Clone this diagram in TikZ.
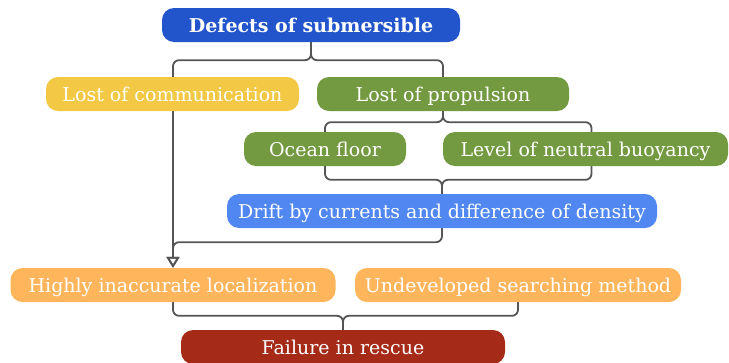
\documentclass[tikz,border=0pt]{standalone}
\usepackage{fontspec}
\setmainfont{DejaVu Serif}
\usetikzlibrary{calc,arrows.meta,backgrounds}
\definecolor{defblue}{RGB}{34,85,204}
\definecolor{commyellow}{RGB}{242,200,68}
\definecolor{propgreen}{RGB}{115,153,65}
\definecolor{driftblue}{RGB}{80,135,240}
\definecolor{locorange}{RGB}{255,181,92}
\definecolor{failred}{RGB}{165,42,24}
\definecolor{linegray}{RGB}{85,85,85}
\tikzset{
    block/.style = {rectangle, rounded corners=12pt,
        minimum height=34pt, inner sep=0pt,
        text height=18pt, text depth=4pt,
        text=white, font=\fontsize{19}{22}\selectfont, align=center},
    link/.style = {draw=linegray, line width=1.8pt, rounded corners=6pt},
    arrow/.style = {link, -{Triangle[open,length=11pt,width=13pt]}}
}

\begin{document}
\begin{tikzpicture}[node distance=1.5cm]
        \useasboundingbox (0,0) rectangle (729pt,-362pt);
        \node [block, fill=defblue, minimum width=298pt, font=\fontsize{19}{22}\selectfont\bfseries] (defect) at (311pt,-25pt) {Defects of submersible};
        \node [block, fill=commyellow, minimum width=253pt] (comm) at (172.5pt,-94pt) {Lost of communication};
        \node [block, fill=propgreen, minimum width=252pt, right of=comm, node distance=270.5pt] (prop) {Lost of propulsion};
        \node [block, fill=propgreen, minimum width=162pt] (floor) at (325pt,-149pt) {Ocean floor};
        \node [block, fill=propgreen, minimum width=285pt, right of=floor, node distance=260.5pt] (level) {Level of neutral buoyancy};
        \node [block, fill=driftblue, minimum width=430pt] (drift) at (442pt,-211pt) {Drift by currents and difference of density};
        \node [block, fill=locorange, minimum width=325pt] (local) at (173pt,-285pt) {Highly inaccurate localization};
        \node [block, fill=locorange, minimum width=326pt, right of=local, node distance=345pt] (search) {Undeveloped searching method};
        \node [block, fill=failred, minimum width=324pt] (fail) at (343pt,-347pt) {Failure in rescue};
        \coordinate (j1) at ($(defect.south)+(0,-18pt)$);
        \coordinate (j2) at ($(prop.south)+(0,-11pt)$);
        \coordinate (j3) at ($(drift.north)+(0,14pt)$);
        \coordinate (j4) at ($(drift.south)+(0,-14pt)$);
        \coordinate (j5) at ($(fail.north)+(0,14pt)$);
        \begin{scope}[on background layer]
        \draw[link] (defect.south) -- (j1) -| (prop.north);
        \draw[arrow] (defect.south) -- (j1) -| (local.north);
        \draw[link] (prop.south) -- (j2) -| (floor.center) |- (j3) -- (drift.north);
        \draw[link] (prop.south) -- (j2) -| ([xshift=6pt]level.center) |- (j3) -- (drift.north);
        \draw[arrow] (drift.south) -- (j4) -| (local.north);
        \draw[link] (local.south) |- (j5) -- (fail.north);
        \draw[link] (search.south) |- (j5) -- (fail.north);
        \end{scope}
\end{tikzpicture}
\end{document}
